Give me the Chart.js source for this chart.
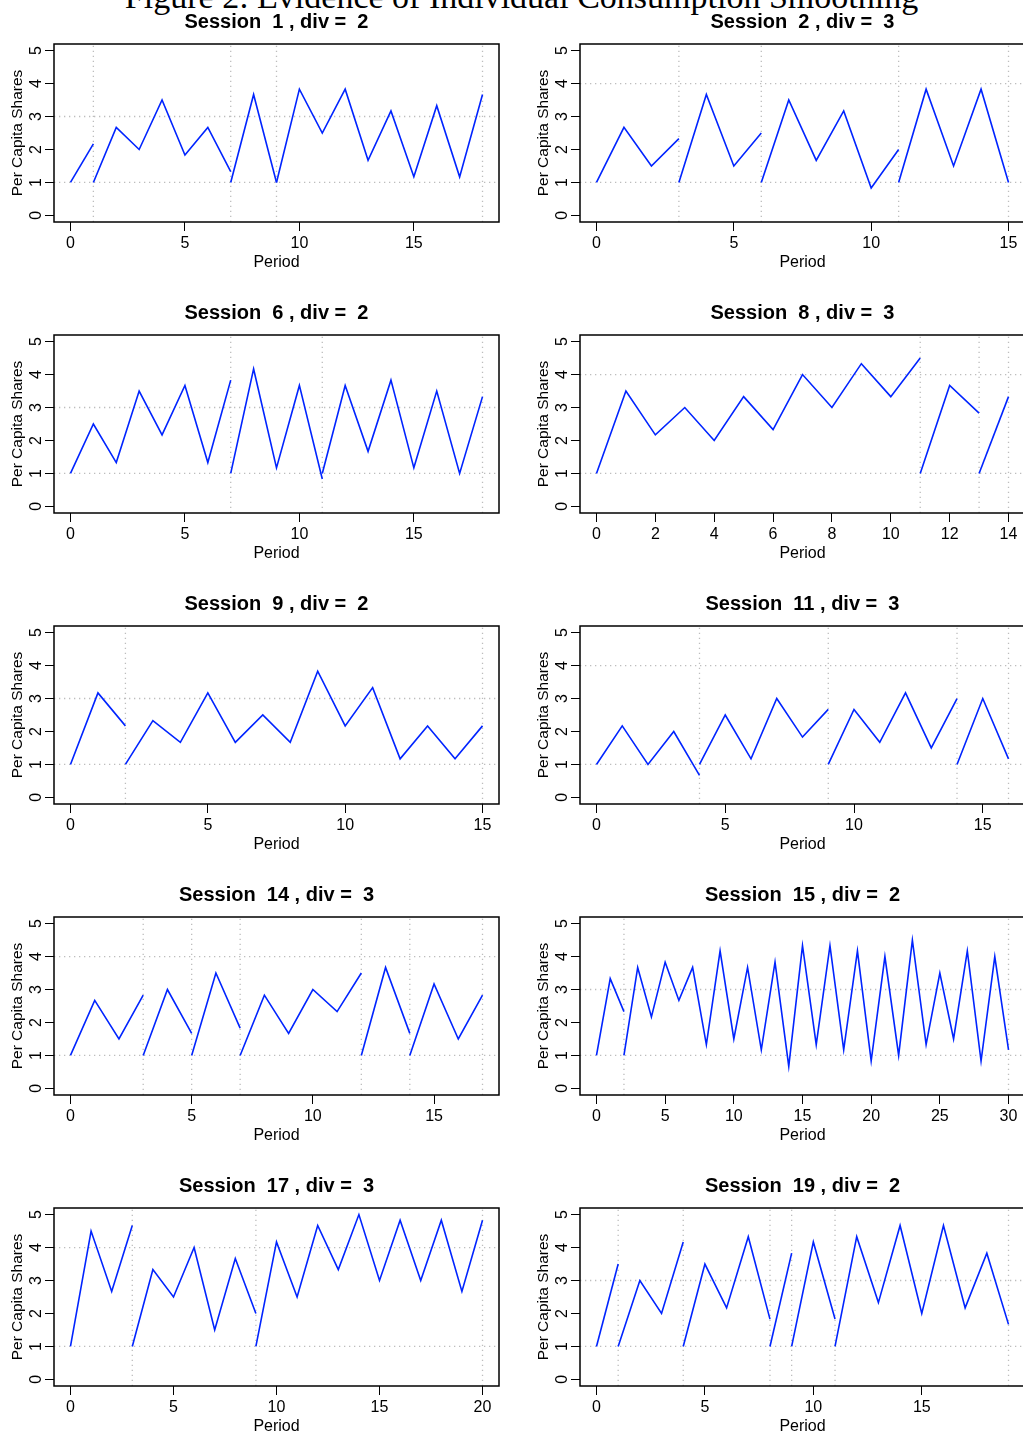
<!DOCTYPE html>
<html>
<head>
<meta charset="utf-8">
<title>Evidence of Individual Consumption Smoothing</title>
<script src="https://cdn.jsdelivr.net/npm/chart.js@4.4.1/dist/chart.umd.min.js"></script>
<style>
  html, body { margin: 0; padding: 0; background: #fff; overflow: hidden; }
  #page { position: relative; width: 1023px; height: 1435px; overflow: hidden; background: #fff; }
  #fig { position: absolute; left: 0; top: -20px; width: 1043px; text-align: center; white-space: nowrap;
         font-family: "Liberation Serif", "DejaVu Serif", serif; font-size: 34px; line-height: 34px; color: #000; }
  .panel { position: absolute; }
</style>
</head>
<body>
<div id="page">
  <div id="fig">Figure 2: Evidence of Individual Consumption Smoothing</div>
</div>
<script>
// panels, row by row
const sessions = [1, 2, 6, 8, 9, 11, 14, 15, 17, 19];
const divs = [2, 3, 2, 3, 2, 3, 3, 2, 3, 2];
const lastPeriod = [18, 15, 18, 14, 15, 16, 17, 30, 20, 19];
const tickStep = [5, 5, 5, 2, 5, 5, 5, 5, 5, 5];
const yTicks = [0, 1, 2, 3, 4, 5];

// period at which each (restarted) segment begins
const segStarts = [
  [0, 1, 7, 9],
  [0, 3, 6, 11],
  [0, 7, 11],
  [0, 11, 13],
  [0, 2],
  [0, 4, 9, 14],
  [0, 3, 5, 7, 12, 14],
  [0, 2],
  [0, 3, 9],
  [0, 1, 4, 8, 9, 11]
];

// per capita shares, one list per segment
const segValues = [
  [[1, 2.17], [1, 2.67, 2.0, 3.5, 1.83, 2.67, 1.33], [1, 3.67, 1.0],
   [1, 3.83, 2.5, 3.83, 1.67, 3.17, 1.17, 3.33, 1.17, 3.67]],
  [[1, 2.67, 1.5, 2.33], [1, 3.67, 1.5, 2.5], [1, 3.5, 1.67, 3.17, 0.83, 2.0], [1, 3.83, 1.5, 3.83, 1.0]],
  [[1, 2.5, 1.33, 3.5, 2.17, 3.67, 1.33, 3.83], [1, 4.17, 1.17, 3.67, 0.83],
   [1, 3.67, 1.67, 3.83, 1.17, 3.5, 1.0, 3.33]],
  [[1, 3.5, 2.17, 3.0, 2.0, 3.33, 2.33, 4.0, 3.0, 4.33, 3.33, 4.5], [1, 3.67, 2.83], [1, 3.33]],
  [[1, 3.17, 2.17], [1, 2.33, 1.67, 3.17, 1.67, 2.5, 1.67, 3.83, 2.17, 3.33, 1.17, 2.17, 1.17, 2.17]],
  [[1, 2.17, 1.0, 2.0, 0.67], [1, 2.5, 1.17, 3.0, 1.83, 2.67], [1, 2.67, 1.67, 3.17, 1.5, 3.0], [1, 3.0, 1.17]],
  [[1, 2.67, 1.5, 2.83], [1, 3.0, 1.67], [1, 3.5, 1.83], [1, 2.83, 1.67, 3.0, 2.33, 3.5], [1, 3.67, 1.67],
   [1, 3.17, 1.5, 2.83]],
  [[1, 3.33, 2.33],
   [1, 3.67, 2.17, 3.83, 2.67, 3.67, 1.33, 4.17, 1.5, 3.67, 1.17, 3.83, 0.67, 4.33, 1.33, 4.33, 1.17,
    4.17, 0.83, 4.0, 1.0, 4.5, 1.33, 3.5, 1.5, 4.17, 0.83, 4.0, 1.17]],
  [[1, 4.5, 2.67, 4.67], [1, 3.33, 2.5, 4.0, 1.5, 3.67, 2.0],
   [1, 4.17, 2.5, 4.67, 3.33, 5.0, 3.0, 4.83, 3.0, 4.83, 2.67, 4.83]],
  [[1, 3.5], [1, 3.0, 2.0, 4.17], [1, 3.5, 2.17, 4.33, 1.83], [1, 3.83], [1, 4.17, 1.83],
   [1, 4.33, 2.33, 4.67, 2.0, 4.67, 2.17, 3.83, 1.67]]
];

const yMin = -0.2, yMax = 5.2;
const lineBlue = 'rgb(0, 36, 255)';
const refGray = '#bdbdbd';
const family = '"Liberation Sans", Arial, Helvetica, sans-serif';

// box round the plot region + panel title
const panelFrame = {
  id: 'panelFrame',
  afterDraw(chart, args, opts) {
    const a = chart.chartArea;
    const ctx = chart.ctx;
    ctx.save();
    ctx.strokeStyle = '#000';
    ctx.lineWidth = 1.5;
    ctx.strokeRect(a.left, a.top, a.right - a.left, a.bottom - a.top);
    ctx.fillStyle = '#000';
    ctx.font = 'bold 20px ' + family;
    ctx.textAlign = 'center';
    ctx.textBaseline = 'alphabetic';
    ctx.fillText(opts.text, (a.left + a.right) / 2, 28);
    ctx.restore();
  }
};

const page = document.getElementById('page');

sessions.forEach(function (session, i) {
  var col = i % 2, row = Math.floor(i / 2);
  var canvas = document.createElement('canvas');
  canvas.width = 510;
  canvas.height = 291;
  canvas.className = 'panel';
  canvas.style.left = (col * 526) + 'px';
  canvas.style.top = (row * 291) + 'px';
  page.appendChild(canvas);

  var last = lastPeriod[i];
  var xMin = -0.04 * last, xMax = 1.04 * last;
  var xTicks = [];
  for (var t = 0; t <= last; t += tickStep[i]) xTicks.push(t);

  var datasets = [];
  // blue segments
  segValues[i].forEach(function (vals, k) {
    var start = segStarts[i][k];
    datasets.push({
      data: vals.map((v, j) => ({ x: start + j, y: v })),
      borderColor: lineBlue,
      borderWidth: 1.6,
      pointRadius: 0,
      tension: 0,
      order: 0
    });
  });
  // dotted reference lines: y = 1, y = div + 1, restart periods and last period
  var refLines = [];
  [1, divs[i] + 1].forEach(h => refLines.push([{ x: xMin, y: h }, { x: xMax, y: h }]));
  segStarts[i].slice(1).concat([last]).forEach(p => refLines.push([{ x: p, y: yMin }, { x: p, y: yMax }]));
  refLines.forEach(function (d) {
    datasets.push({
      data: d,
      borderColor: refGray,
      borderWidth: 1.3,
      borderDash: [1.3, 3.7],
      pointRadius: 0,
      order: 1
    });
  });

  new Chart(canvas.getContext('2d'), {
    type: 'line',
    data: { datasets: datasets },
    options: {
      responsive: false,
      animation: false,
      devicePixelRatio: 1,
      layout: { padding: { top: 44, right: 11, left: 0, bottom: 0 } },
      plugins: {
        legend: { display: false },
        tooltip: { enabled: false },
        panelFrame: { text: 'Session  ' + session + ' , div =  ' + divs[i] }
      },
      scales: {
        x: {
          type: 'linear',
          bounds: 'data',
          min: xMin,
          max: xMax,
          afterBuildTicks: s => { s.ticks = xTicks.map(v => ({ value: v })); },
          afterFit: s => { s.height = 69; },
          grid: { drawOnChartArea: false, drawTicks: true, tickLength: 9, color: '#000', lineWidth: 1 },
          border: { display: false },
          ticks: { color: '#000', font: { family: family, size: 16 }, padding: 3, maxRotation: 0, autoSkip: false },
          title: { display: true, text: 'Period', color: '#000', font: { family: family, size: 16 },
                   padding: { top: 0, bottom: 19 } }
        },
        y: {
          type: 'linear',
          bounds: 'data',
          min: yMin,
          max: yMax,
          afterBuildTicks: s => { s.ticks = yTicks.map(v => ({ value: v })); },
          afterFit: s => { s.width = 54; },
          grid: { drawOnChartArea: false, drawTicks: true, tickLength: 9, color: '#000', lineWidth: 1 },
          border: { display: false },
          ticks: { color: '#000', font: { family: family, size: 16 }, padding: 4,
                   minRotation: 90, maxRotation: 90, crossAlign: 'center', autoSkip: false },
          title: { display: true, text: 'Per Capita Shares', color: '#000', font: { family: family, size: 15.5 },
                   padding: { top: 8, bottom: 0 } }
        }
      }
    },
    plugins: [panelFrame]
  });
});
</script>
</body>
</html>
